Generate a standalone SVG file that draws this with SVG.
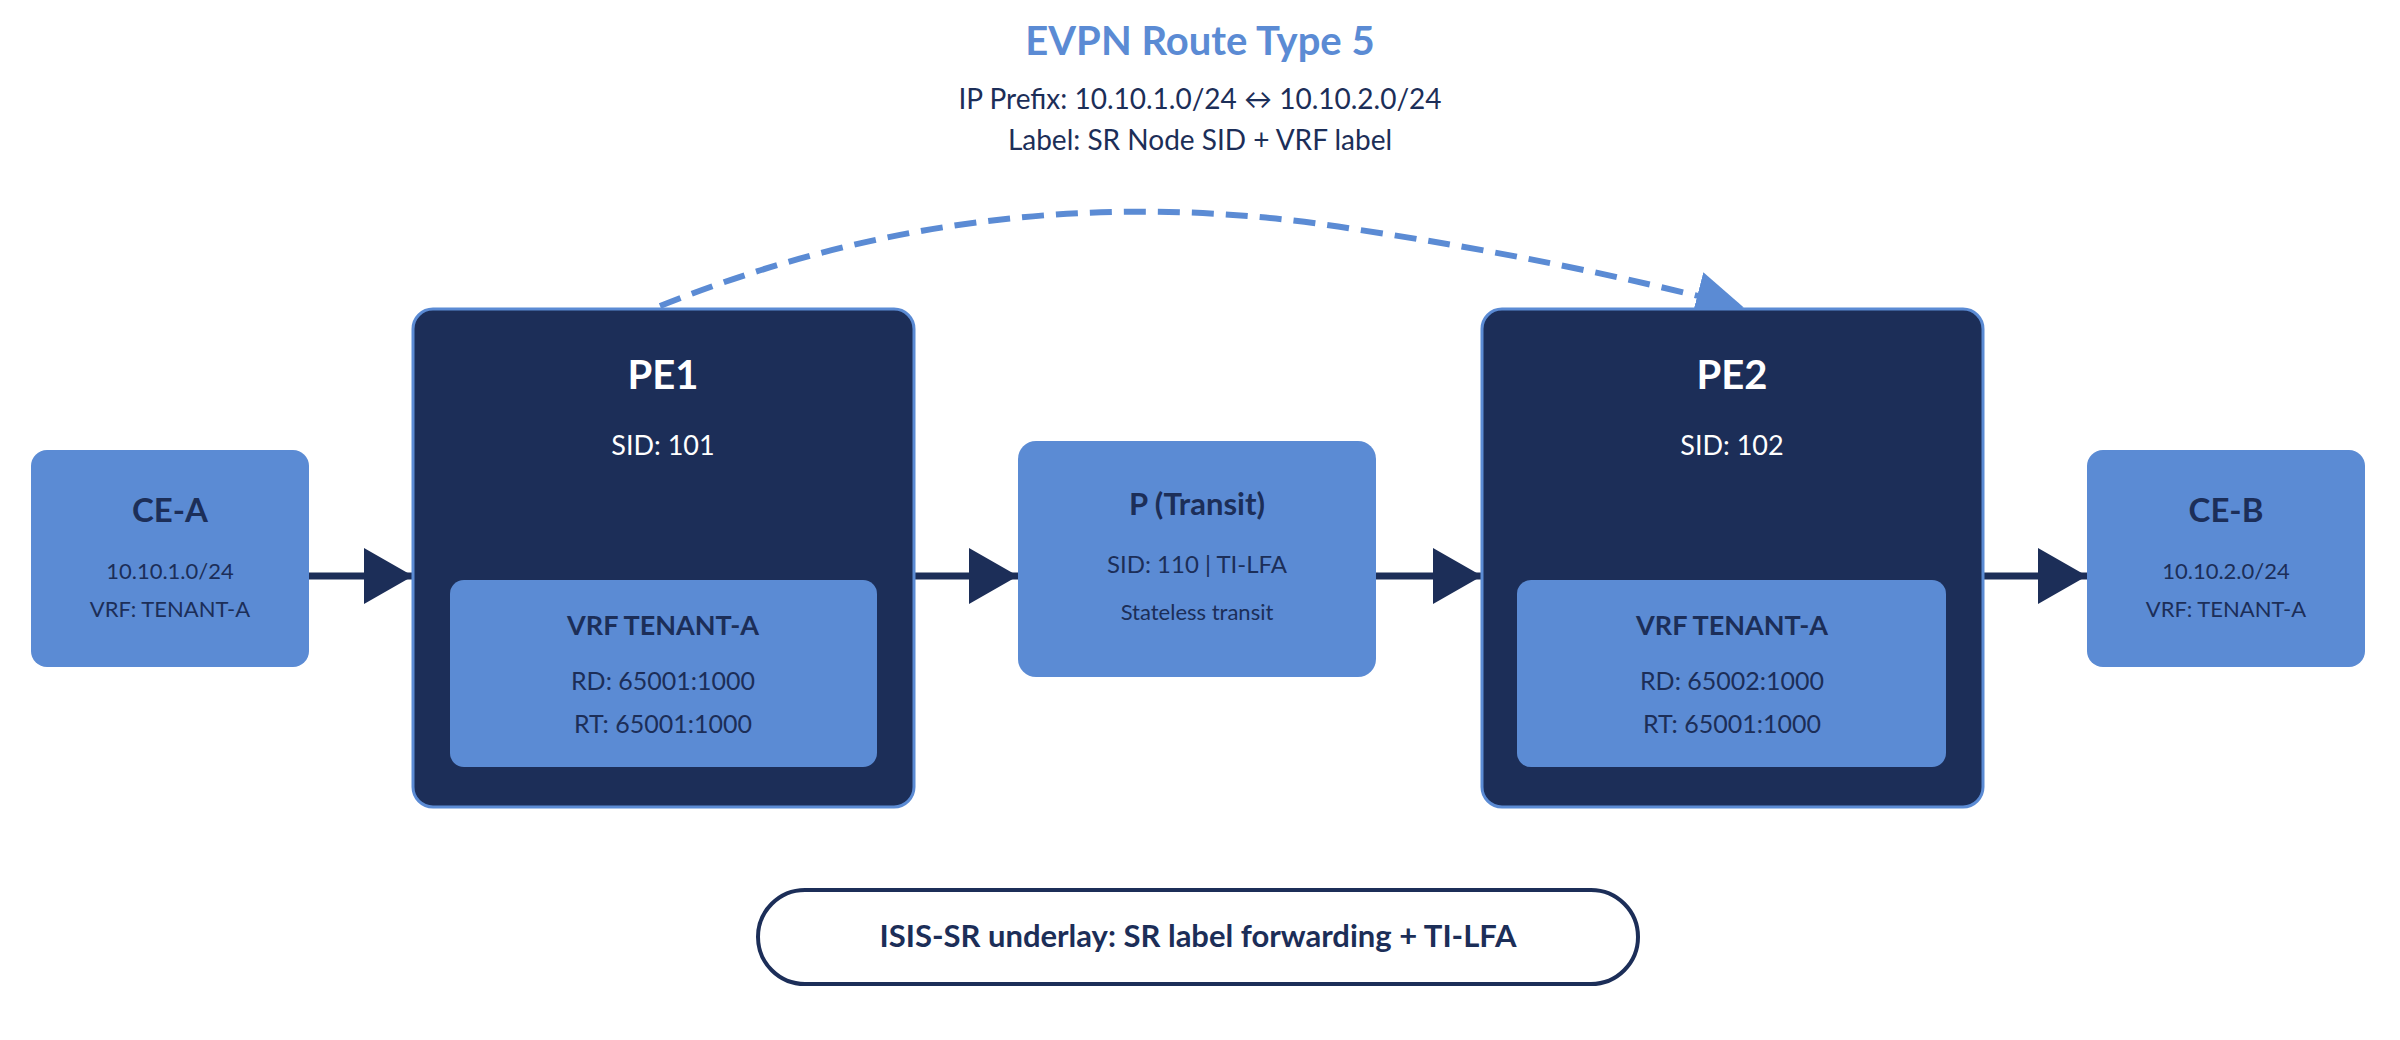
<svg xmlns="http://www.w3.org/2000/svg" width="2400" height="1040" viewBox="0 0 2400 1040">
<style>
text{font-family:Lato,"Noto Sans",sans-serif;text-anchor:middle}
.lb{fill:#5b8bd4}
.dk{fill:#1c2e58;stroke:#5b8bd4;stroke-width:3}
.t1{fill:#1c2e58;font-weight:bold}
.t2{fill:#1c2e58}
.w1{fill:#fff;font-weight:bold}
.w2{fill:#fff}
.con{stroke:#1c2e58;stroke-width:7;fill:none}
</style>
<defs>
<marker id="ah" markerWidth="7" markerHeight="8" refX="7" refY="4" orient="auto" markerUnits="strokeWidth"><path d="M0,0 L7,4 L0,8 z" fill="#1c2e58"/></marker>
<marker id="ah2" markerWidth="8" markerHeight="8" refX="7" refY="4" orient="auto" markerUnits="strokeWidth"><path d="M0,0 L8,4 L0,8 z" fill="#5b8bd4"/></marker>
</defs>
<g id="title">
<text x="1200" y="55" font-size="40" font-weight="bold" fill="#5b8bd4">EVPN Route Type 5</text>
<text x="1200" y="109" font-size="28" fill="#1c2e58">IP Prefix: 10.10.1.0/24 ↔ 10.10.2.0/24</text>
<text x="1200" y="150" font-size="28" fill="#1c2e58">Label: SR Node SID + VRF label</text>
</g>
<g id="connectors">
<line class="con" x1="309" y1="576" x2="413" y2="576" marker-end="url(#ah)"/>
<line class="con" x1="914" y1="576" x2="1018" y2="576" marker-end="url(#ah)"/>
<line class="con" x1="1376" y1="576" x2="1482" y2="576" marker-end="url(#ah)"/>
<line class="con" x1="1983" y1="576" x2="2087" y2="576" marker-end="url(#ah)"/>
<path d="M660,306 Q1000,170 1360,230 Q1560,260 1738,306" fill="none" stroke="#5b8bd4" stroke-width="6" stroke-dasharray="22,12" marker-end="url(#ah2)"/>
</g>
<g id="CE-A">
<rect class="lb" x="31" y="450" width="278" height="217" rx="16"/>
<text class="t1" x="170" y="522" font-size="33">CE-A</text>
<text class="t2" x="170" y="579" font-size="22">10.10.1.0/24</text>
<text class="t2" x="170" y="617" font-size="22">VRF: TENANT-A</text>
</g>
<g id="PE1">
<rect class="dk" x="413" y="309" width="501" height="498" rx="20"/>
<text class="w1" x="663" y="389" font-size="40">PE1</text>
<text class="w2" x="663" y="455" font-size="27">SID: 101</text>
<rect class="lb" x="450" y="580" width="427" height="187" rx="14"/>
<text class="t1" x="663" y="635" font-size="27">VRF TENANT-A</text>
<text class="t2" x="663" y="690" font-size="25">RD: 65001:1000</text>
<text class="t2" x="663" y="733" font-size="25">RT: 65001:1000</text>
</g>
<g id="P">
<rect class="lb" x="1018" y="441" width="358" height="236" rx="18"/>
<text class="t1" x="1197" y="515" font-size="31">P (Transit)</text>
<text class="t2" x="1197" y="573" font-size="24">SID: 110 | TI-LFA</text>
<text class="t2" x="1197" y="620" font-size="22">Stateless transit</text>
</g>
<g id="PE2">
<rect class="dk" x="1482" y="309" width="501" height="498" rx="20"/>
<text class="w1" x="1732" y="389" font-size="40">PE2</text>
<text class="w2" x="1732" y="455" font-size="27">SID: 102</text>
<rect class="lb" x="1517" y="580" width="429" height="187" rx="14"/>
<text class="t1" x="1732" y="635" font-size="27">VRF TENANT-A</text>
<text class="t2" x="1732" y="690" font-size="25">RD: 65002:1000</text>
<text class="t2" x="1732" y="733" font-size="25">RT: 65001:1000</text>
</g>
<g id="CE-B">
<rect class="lb" x="2087" y="450" width="278" height="217" rx="16"/>
<text class="t1" x="2226" y="522" font-size="33">CE-B</text>
<text class="t2" x="2226" y="579" font-size="22">10.10.2.0/24</text>
<text class="t2" x="2226" y="617" font-size="22">VRF: TENANT-A</text>
</g>
<g id="underlay">
<rect x="758" y="890" width="880" height="94" rx="47" fill="#fff" stroke="#1c2e58" stroke-width="4"/>
<text class="t1" x="1198" y="947" font-size="31">ISIS-SR underlay: SR label forwarding + TI-LFA</text>
</g>
</svg>
